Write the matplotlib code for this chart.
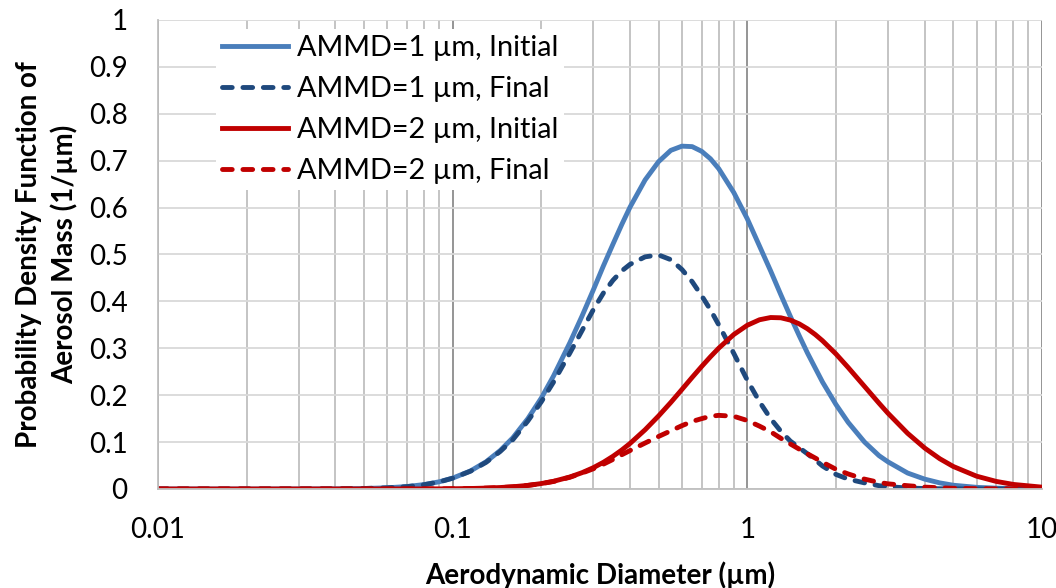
import matplotlib
matplotlib.use("Agg")
import matplotlib.pyplot as plt
from matplotlib.ticker import FixedLocator, NullFormatter

# ---------------------------------------------------------------
# Data
# ---------------------------------------------------------------
diameter = [0.01, 0.02, 0.03, 0.04, 0.05, 0.06, 0.07, 0.08, 0.09, 0.1,
            0.115, 0.13, 0.145, 0.16, 0.18, 0.2, 0.22, 0.25, 0.275, 0.3,
            0.325, 0.35, 0.375, 0.4, 0.45, 0.5, 0.55, 0.6, 0.65, 0.7,
            0.75, 0.8, 0.9, 1.0, 1.1, 1.2, 1.3, 1.4, 1.5, 1.6,
            1.7, 1.8, 2.0, 2.2, 2.5, 2.8, 3.0, 3.5, 4.0, 4.5,
            5.0, 6.0, 7.0, 8.0, 10.0]

ammd1_initial = [0.0, 0.0, 0.0001, 0.0003, 0.001, 0.0025, 0.0052, 0.0094, 0.0153, 0.0231,
                 0.0385, 0.0582, 0.082, 0.109, 0.150, 0.194, 0.241, 0.312, 0.369, 0.424,
                 0.476, 0.522, 0.564, 0.601, 0.659, 0.698, 0.722, 0.731, 0.730, 0.720,
                 0.704, 0.683, 0.632, 0.576, 0.518, 0.465, 0.414, 0.368, 0.327, 0.290,
                 0.258, 0.228, 0.180, 0.142, 0.100, 0.071, 0.058, 0.034, 0.021, 0.013,
                 0.008, 0.0035, 0.0018, 0.0008, 0.0002]

ammd1_final = [0.0, 0.0, 0.0001, 0.0003, 0.001, 0.0025, 0.005, 0.009, 0.015, 0.023,
               0.038, 0.057, 0.080, 0.105, 0.145, 0.186, 0.228, 0.290, 0.338, 0.382,
               0.418, 0.445, 0.465, 0.479, 0.495, 0.499, 0.489, 0.468, 0.442, 0.412,
               0.382, 0.350, 0.289, 0.232, 0.186, 0.150, 0.123, 0.102, 0.088, 0.075,
               0.062, 0.049, 0.031, 0.021, 0.013, 0.007, 0.005, 0.002, 0.001, 0.0005,
               0.0003, 0.0001, 0.0, 0.0, 0.0]

ammd2_initial = [0.0, 0.0, 0.0, 0.0, 0.0, 0.0, 0.0001, 0.00015, 0.0003, 0.0005,
                 0.001, 0.0019, 0.0031, 0.0047, 0.0077, 0.0116, 0.0164, 0.0256, 0.0348, 0.0453,
                 0.057, 0.0697, 0.0831, 0.0971, 0.1263, 0.1558, 0.1845, 0.2122, 0.238, 0.2612,
                 0.282, 0.3003, 0.3294, 0.3491, 0.3608, 0.3656, 0.365, 0.3601, 0.3521, 0.3416,
                 0.3294, 0.3161, 0.2878, 0.259, 0.2186, 0.1828, 0.1617, 0.1187, 0.0873, 0.0645,
                 0.048, 0.0273, 0.0161, 0.0097, 0.0039]

ammd2_final = [0.0, 0.0, 0.0, 0.0, 0.0, 0.0, 0.0001, 0.00015, 0.0003, 0.0005,
               0.001, 0.0019, 0.003, 0.0046, 0.0076, 0.0114, 0.016, 0.025, 0.034, 0.043,
               0.053, 0.063, 0.073, 0.082, 0.098, 0.112, 0.124, 0.135, 0.144, 0.150,
               0.155, 0.157, 0.155, 0.146, 0.134, 0.122, 0.108, 0.096, 0.085, 0.075,
               0.066, 0.057, 0.042, 0.032, 0.021, 0.014, 0.011, 0.007, 0.004, 0.0025,
               0.0015, 0.0007, 0.0004, 0.0002, 0.0]

series_labels = ["AMMD=1 µm, Initial", "AMMD=1 µm, Final",
                 "AMMD=2 µm, Initial", "AMMD=2 µm, Final"]

x_ticks = [0.01, 0.1, 1, 10]
x_ticklabels = ["0.01", "0.1", "1", "10"]
y_ticks = [0, 0.1, 0.2, 0.3, 0.4, 0.5, 0.6, 0.7, 0.8, 0.9, 1.0]
y_ticklabels = ["0", "0.1", "0.2", "0.3", "0.4", "0.5", "0.6", "0.7", "0.8", "0.9", "1"]

# ---------------------------------------------------------------
# Figure
# ---------------------------------------------------------------
plt.rcParams["font.family"] = ["Lato", "DejaVu Sans"]

BLUE = "#4A7EBB"
NAVY = "#1F497D"
RED = "#C00000"
LW = 3.5
DASH = (2.0, 2.2)
FS = 20
LEG_FS = 20.8

fig = plt.figure(figsize=(10.56, 5.88), dpi=100)
ax = fig.add_axes([0.1496, 0.1684, 0.8371, 0.7976])

ax.plot(diameter, ammd1_initial, color=BLUE, lw=LW, label=series_labels[0])
ax.plot(diameter, ammd1_final, color=NAVY, lw=LW, dashes=DASH,
        dash_capstyle="round", label=series_labels[1])
ax.plot(diameter, ammd2_initial, color=RED, lw=LW, label=series_labels[2])
ax.plot(diameter, ammd2_final, color=RED, lw=LW, dashes=DASH,
        dash_capstyle="round", label=series_labels[3])

ax.set_xscale("log")
ax.set_xlim(0.01, 10)
ax.set_ylim(0, 1)

ax.xaxis.set_major_locator(FixedLocator(x_ticks))
ax.set_xticklabels(x_ticklabels)
ax.xaxis.set_minor_locator(FixedLocator(
    [m * d for d in (0.01, 0.1, 1) for m in range(2, 10)]))
ax.xaxis.set_minor_formatter(NullFormatter())
ax.set_yticks(y_ticks)
ax.set_yticklabels(y_ticklabels)

ax.tick_params(which="both", length=0, labelsize=FS, pad=22)
ax.tick_params(axis="x", pad=20)

ax.grid(True, axis="y", color="#D9D9D9", lw=1.3)
ax.grid(True, axis="x", which="minor", color="#BFBFBF", lw=1.3)
ax.grid(True, axis="x", which="major", color="#8C8C8C", lw=1.3)
ax.set_axisbelow(True)

for side in ("top", "right"):
    ax.spines[side].set_visible(False)
for side in ("left", "bottom"):
    ax.spines[side].set_color("#BFBFBF")
    ax.spines[side].set_linewidth(1.3)

ax.set_xlabel("Aerodynamic Diameter (µm)", fontsize=FS, fontweight="bold")
ax.xaxis.set_label_coords(0.5, -0.183)
ax.xaxis.label.set_va("center")
ax.set_ylabel("Probability Density Function of\nAerosol Mass (1/µm)",
              fontsize=FS, fontweight="bold", linespacing=1.35)
ax.yaxis.set_label_coords(-0.1255, 0.5)
ax.yaxis.label.set_va("center")

leg = ax.legend(loc="upper left", bbox_to_anchor=(0.0656, 0.981),
                borderaxespad=0, fontsize=LEG_FS, handlelength=2.3,
                handletextpad=0.3, labelspacing=0.52, frameon=True,
                fancybox=False, framealpha=1, borderpad=0.2)
leg.get_frame().set_facecolor("white")
leg.get_frame().set_edgecolor("none")

fig.savefig("out.png", dpi=100)
